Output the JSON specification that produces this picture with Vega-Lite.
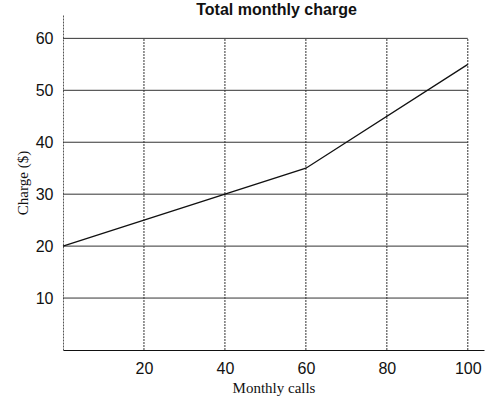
{
  "$schema": "https://vega.github.io/schema/vega-lite/v6.json",
  "width": 421,
  "height": 335,
  "autosize": "none",
  "padding": {"left": 63, "top": 15, "right": 8, "bottom": 50},
  "background": "white",
  "title": {"text": "Total monthly charge", "font": "Liberation Sans", "fontSize": 16, "fontWeight": "bold", "color": "#111", "dx": 3, "offset": -3},
  "config": {"view": {"stroke": null}},
  "datasets": {
    "line": [{"calls": 0, "charge": 20}, {"calls": 60, "charge": 35}, {"calls": 100, "charge": 55}],
    "hgrid": [{"y": 10, "x0": 0, "x1": 100}, {"y": 20, "x0": 0, "x1": 100}, {"y": 30, "x0": 0, "x1": 100}, {"y": 40, "x0": 0, "x1": 100}, {"y": 50, "x0": 0, "x1": 100}, {"y": 60, "x0": 0, "x1": 100}],
    "vgrid": [{"x": 20, "y0": 0, "y1": 60}, {"x": 40, "y0": 0, "y1": 60}, {"x": 60, "y0": 0, "y1": 60}, {"x": 80, "y0": 0, "y1": 60}, {"x": 100, "y0": 0, "y1": 60}]
  },
  "layer": [
    {
      "data": {"name": "hgrid"},
      "mark": {"type": "rule", "color": "#333", "strokeWidth": 1},
      "encoding": {
        "y": {"field": "y", "type": "quantitative", "scale": {"domain": [0, 64.5], "nice": false, "zero": true},
          "axis": {"title": "Charge ($)", "titleFont": "Liberation Serif", "titleFontSize": 15, "titleFontWeight": "normal", "titleColor": "#111", "titlePadding": 5,
            "values": [10, 20, 30, 40, 50, 60], "labelFont": "Liberation Sans", "labelFontSize": 16, "labelColor": "#111", "labelPadding": 10,
            "ticks": false, "grid": false, "domainColor": "#555", "domainDash": [2, 1]}},
        "x": {"field": "x0", "type": "quantitative", "scale": {"domain": [0, 104], "nice": false},
          "axis": {"title": "Monthly calls", "titleFont": "Liberation Serif", "titleFontSize": 15, "titleFontWeight": "normal", "titleColor": "#111", "titlePadding": 4,
            "values": [20, 40, 60, 80, 100], "labelFont": "Liberation Sans", "labelFontSize": 16, "labelColor": "#111", "labelPadding": 10,
            "ticks": false, "grid": false, "domainColor": "#111"}},
        "x2": {"field": "x1"}
      }
    },
    {
      "data": {"name": "vgrid"},
      "mark": {"type": "rule", "color": "#333", "strokeWidth": 1, "strokeDash": [2, 1]},
      "encoding": {
        "x": {"field": "x", "type": "quantitative"},
        "y": {"field": "y0", "type": "quantitative"},
        "y2": {"field": "y1"}
      }
    },
    {
      "data": {"name": "line"},
      "mark": {"type": "line", "color": "#111", "strokeWidth": 1.3},
      "encoding": {
        "x": {"field": "calls", "type": "quantitative"},
        "y": {"field": "charge", "type": "quantitative"}
      }
    }
  ]
}
